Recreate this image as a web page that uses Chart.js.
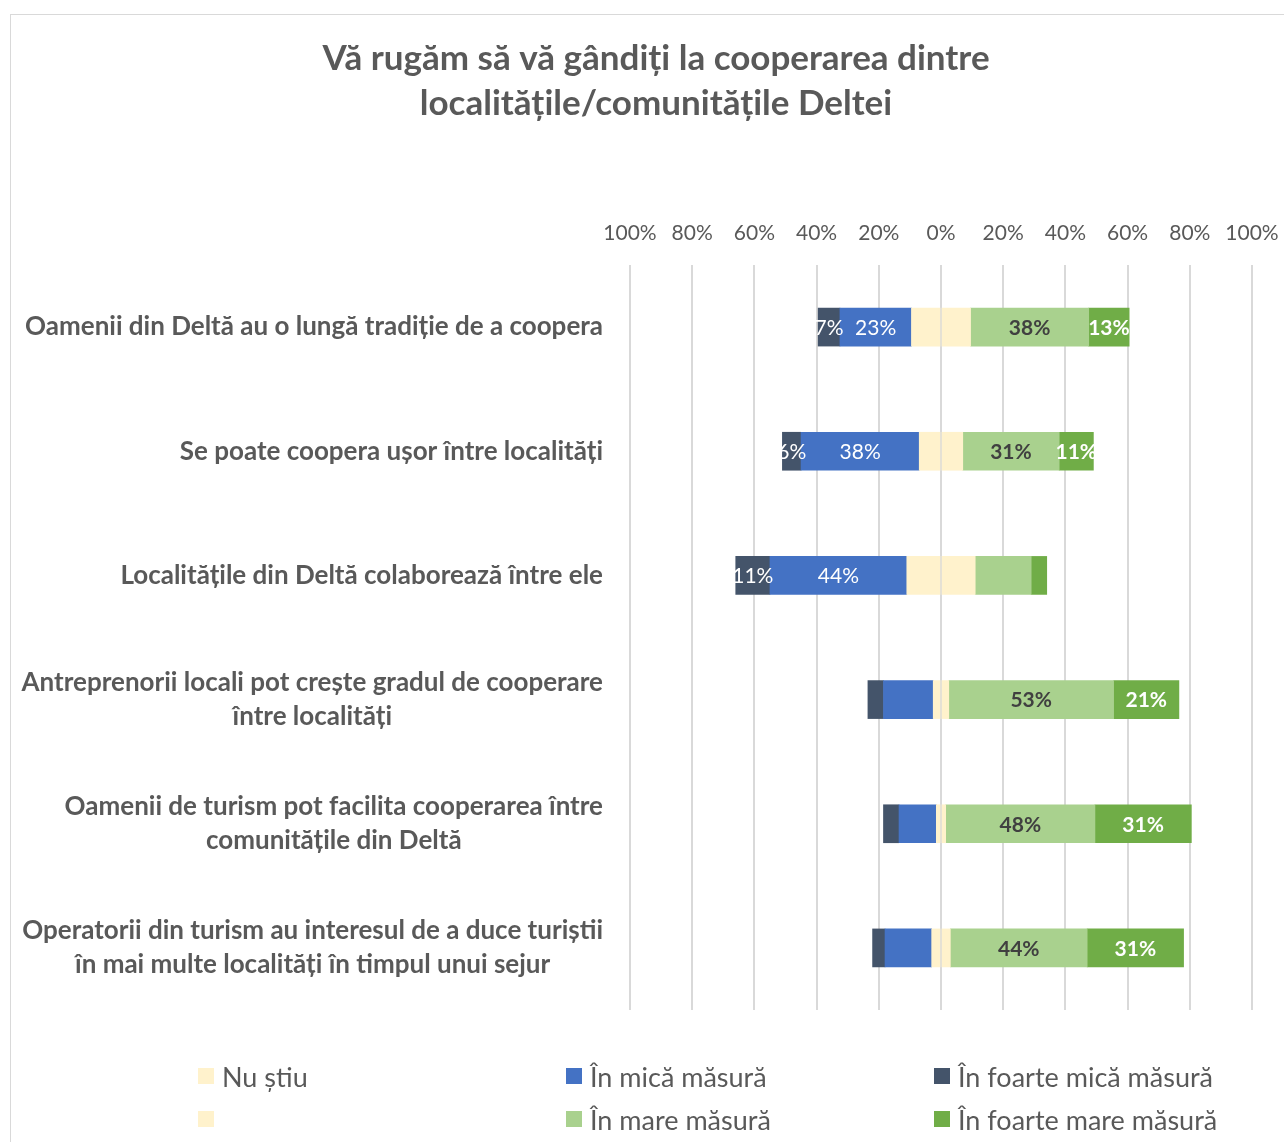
<!DOCTYPE html>
<html lang="ro">
<head>
  <meta charset="UTF-8" />
  <title>Cooperarea dintre localitățile Deltei</title>
  <script src="https://cdn.jsdelivr.net/npm/chart.js"></script>
  <style>
    html, body { margin: 0; padding: 0; background: #fff; overflow: hidden; }
    body { width: 1284px; height: 1142px; position: relative; font-family: Lato, sans-serif; }
    #frame { position: absolute; left: 10px; top: 14px; width: 1292px; height: 1140px; border: 1px solid #d9d9d9; box-sizing: border-box; }
    #chartBox { position: absolute; left: 10px; top: 14px; width: 1292px; height: 1140px; }
    .item { position: absolute; height: 30px; display: flex; align-items: center; font-size: 27px; color: #595959; white-space: nowrap; }
    .swatch { width: 16px; height: 16px; margin-right: 8px; flex: none; }
  </style>
</head>
<body>
  <div id="frame"></div>
  <div id="chartBox"><canvas id="chart" width="1292" height="1140"></canvas></div>
  <div id="legend"></div>

  <script>
    const categories = [
      'Oamenii din Deltă au o lungă tradiție de a coopera',
      'Se poate coopera ușor între localități',
      'Localitățile din Deltă colaborează între ele',
      ['Antreprenorii locali pot crește gradul de cooperare', 'între localități'],
      ['Oamenii de turism pot facilita cooperarea între', 'comunitățile din Deltă'],
      ['Operatorii din turism au interesul de a duce turiștii', 'în mai multe localități în timpul unui sejur']
    ];

    // percentages
    const nuStiu     = [19, 14, 22, 5, 3, 6];
    const micaMasura = [23, 38, 44, 16, 12, 15];
    const foarteMica = [7, 6, 11, 5, 5, 4];
    const mareMasura = [38, 31, 18, 53, 48, 44];
    const foarteMare = [13, 11, 5, 21, 31, 31];

    // which segments show a value label in the original
    const showFoarteMica = [true, true, true, false, false, false];
    const showMica       = [true, true, true, false, false, false];
    const showMare       = [true, true, false, true, true, true];
    const showFoarteMare = [true, true, false, true, true, true];

    const textColor = '#595959';

    const datasets = [
      { label: 'Nu știu', data: nuStiu.map(v => -v / 2), backgroundColor: '#FFF2CC' },
      { label: 'În mică măsură', data: micaMasura.map(v => -v), backgroundColor: '#4472C4',
        shown: showMica, labelFont: '21px Lato', labelColor: '#ffffff' },
      { label: 'În foarte mică măsură', data: foarteMica.map(v => -v), backgroundColor: '#44546A',
        shown: showFoarteMica, labelFont: '21px Lato', labelColor: '#ffffff' },
      { label: '', data: nuStiu.map(v => v / 2), backgroundColor: '#FFF2CC' },
      { label: 'În mare măsură', data: mareMasura, backgroundColor: '#A9D18E',
        shown: showMare, labelFont: 'bold 21px Lato', labelColor: '#404040' },
      { label: 'În foarte mare măsură', data: foarteMare, backgroundColor: '#70AD47',
        shown: showFoarteMare, labelFont: 'bold 21px Lato', labelColor: '#ffffff' }
    ];

    const segmentLabels = {
      id: 'segmentLabels',
      afterDatasetsDraw(chart) {
        const ctx = chart.ctx;
        chart.data.datasets.forEach((ds, i) => {
          if (!ds.shown) return;
          chart.getDatasetMeta(i).data.forEach((bar, j) => {
            if (!ds.shown[j]) return;
            ctx.save();
            ctx.font = ds.labelFont;
            ctx.fillStyle = ds.labelColor;
            ctx.textAlign = 'center';
            ctx.textBaseline = 'middle';
            ctx.fillText(Math.abs(ds.data[j]) + '%', (bar.x + bar.base) / 2, bar.y + 1);
            ctx.restore();
          });
        });
      }
    };

    // category labels: block right-aligned, lines centred inside the block
    const categoryLabels = {
      id: 'categoryLabels',
      afterDraw(chart) {
        const { ctx, chartArea, scales } = chart;
        ctx.save();
        ctx.font = 'bold 26px Lato';
        ctx.fillStyle = textColor;
        ctx.textAlign = 'center';
        ctx.textBaseline = 'middle';
        categories.forEach((c, i) => {
          const lines = [].concat(c);
          const w = Math.max(...lines.map(l => ctx.measureText(l).width));
          const cx = chartArea.left - 27 - w / 2;
          const cy = scales.y.getPixelForValue(i);
          lines.forEach((l, k) => ctx.fillText(l, cx, cy + (k - (lines.length - 1) / 2) * 34));
        });
        ctx.restore();
      }
    };

    const chart = new Chart(document.getElementById('chart'), {
      type: 'bar',
      data: { labels: categories, datasets: datasets },
      options: {
        indexAxis: 'y',
        responsive: false,
        animation: false,
        layout: { padding: { top: 0, left: 50, right: 50, bottom: 144 } },
        datasets: { bar: { barThickness: 38, borderWidth: 0 } },
        plugins: {
          legend: { display: false },
          tooltip: { enabled: false },
          title: {
            display: true,
            text: ['Vă rugăm să vă gândiți la cooperarea dintre', 'localitățile/comunitățile Deltei'],
            color: textColor,
            font: { family: 'Lato', size: 35, weight: 'bold', lineHeight: 45 / 35 },
            padding: { top: 22, bottom: 95 }
          }
        },
        scales: {
          x: {
            stacked: true,
            position: 'top',
            min: -100,
            max: 100,
            ticks: {
              stepSize: 20,
              callback: v => Math.abs(v) + '%',
              color: textColor,
              font: { family: 'Lato', size: 21, lineHeight: 24 / 21 },
              padding: 20,
              maxRotation: 0,
              autoSkip: false
            },
            grid: { color: '#d9d9d9', lineWidth: 2, drawTicks: false },
            border: { display: false },
            afterFit: s => { s.height = 44; }
          },
          y: {
            stacked: true,
            ticks: { display: false },
            grid: { display: false, drawTicks: false },
            border: { display: false },
            afterFit: s => { s.width = 570; }
          }
        }
      },
      plugins: [segmentLabels, categoryLabels]
    });

    // legend in three columns, two rows, like the original
    const colX = [198, 566, 934];
    const rowY = [1076, 1119];
    const legend = document.getElementById('legend');
    chart.data.datasets.forEach((ds, i) => {
      const item = document.createElement('div');
      item.className = 'item';
      item.style.left = colX[i % 3] + 'px';
      item.style.top = (rowY[Math.floor(i / 3)] - 15) + 'px';
      item.innerHTML = '<span class="swatch" style="background:' + ds.backgroundColor + '"></span><span>' + ds.label + '</span>';
      legend.appendChild(item);
    });
  </script>
</body>
</html>
